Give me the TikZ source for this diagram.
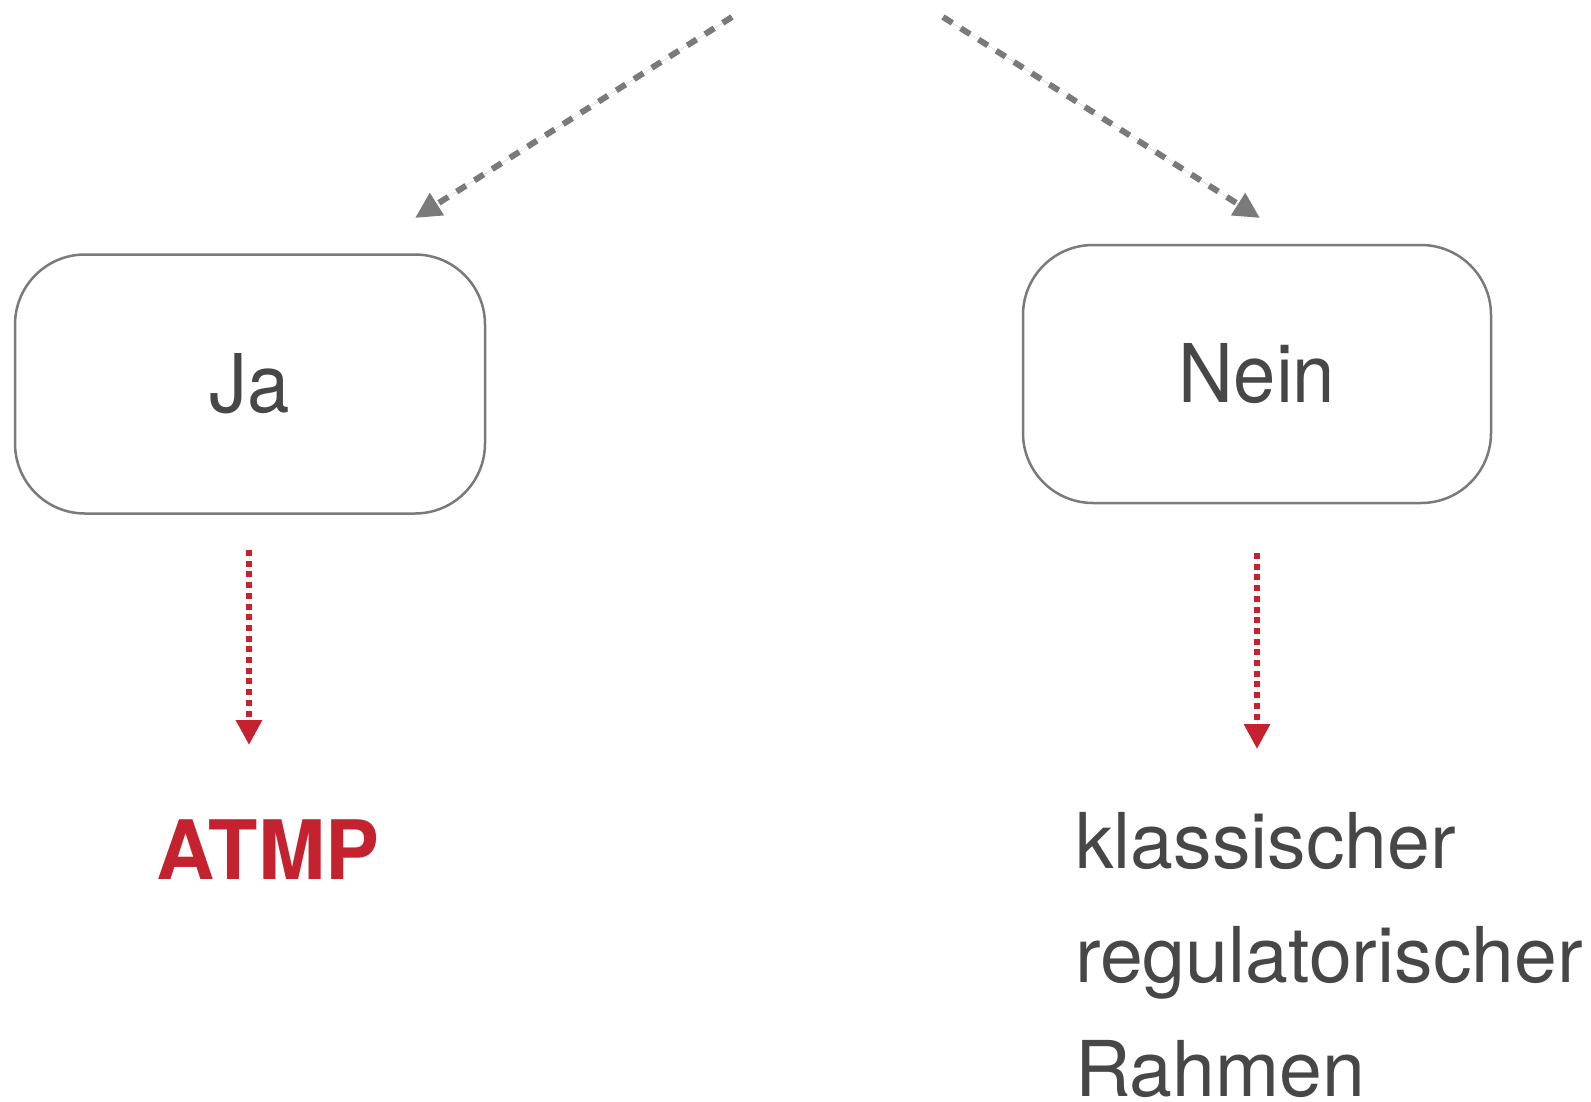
\documentclass[tikz,border=0pt]{standalone}
\usepackage{fontspec}
\setmainfont{TeX Gyre Heros}[FakeStretch=0.94]
\newfontfamily\widefont{TeX Gyre Heros}[FakeStretch=1.0]
\newfontfamily\atmpfont{TeX Gyre Heros}[FakeStretch=0.985]
\usetikzlibrary{arrows.meta}
\definecolor{linegray}{HTML}{7A7A7A}
\definecolor{textgray}{HTML}{474747}
\definecolor{atmpred}{HTML}{C4222F}
\begin{document}
\begin{tikzpicture}[x=1pt,y=-1pt,
  choicebox/.style={draw=linegray, line width=2.5pt, rounded corners=70pt,
    minimum width=470pt, minimum height=259pt, inner sep=0pt,
    text=textgray, font=\fontsize{81}{97}\selectfont},
  grayarrow/.style={draw=linegray, line width=6pt, dash pattern=on 11pt off 10pt,
    -{Triangle[length=26pt,width=25pt]}, fill=linegray},
  redarrow/.style={draw=atmpred, line width=6pt, dash pattern=on 6pt off 4.7pt,
    -{Triangle[length=25pt,width=25pt]}, fill=atmpred}
]
\useasboundingbox (0,0) rectangle (1591,1101);

\node[choicebox] (ja) at (250,384) {Ja};
\node[choicebox, minimum width=468pt, minimum height=258pt] (nein) at (1257,374) {Nein};

\coordinate (topL) at (732,17);
\coordinate (tipL) at (415,218);
\coordinate (topR) at (943,17);
\coordinate (tipR) at (1260,218);
\draw[grayarrow] (topL) -- (tipL);
\draw[grayarrow] (topR) -- (tipR);

\node[text=atmpred, font=\atmpfont\fontsize{82}{98}\selectfont\bfseries, inner sep=0pt] (atmp) at (268,850) {ATMP};
\node[text=textgray, font=\widefont\fontsize{77}{114}\selectfont, align=left, anchor=north west, inner sep=0pt] (klass) at (1075,812)
  {klassischer\\regulatorischer\\Rahmen};

\coordinate (jaS) at (249,550);
\coordinate (jaE) at (249,745);
\coordinate (neinS) at (1257,553);
\coordinate (neinE) at (1257,749);
\draw[redarrow] (jaS) -- (jaE);
\draw[redarrow] (neinS) -- (neinE);
\end{tikzpicture}
\end{document}
